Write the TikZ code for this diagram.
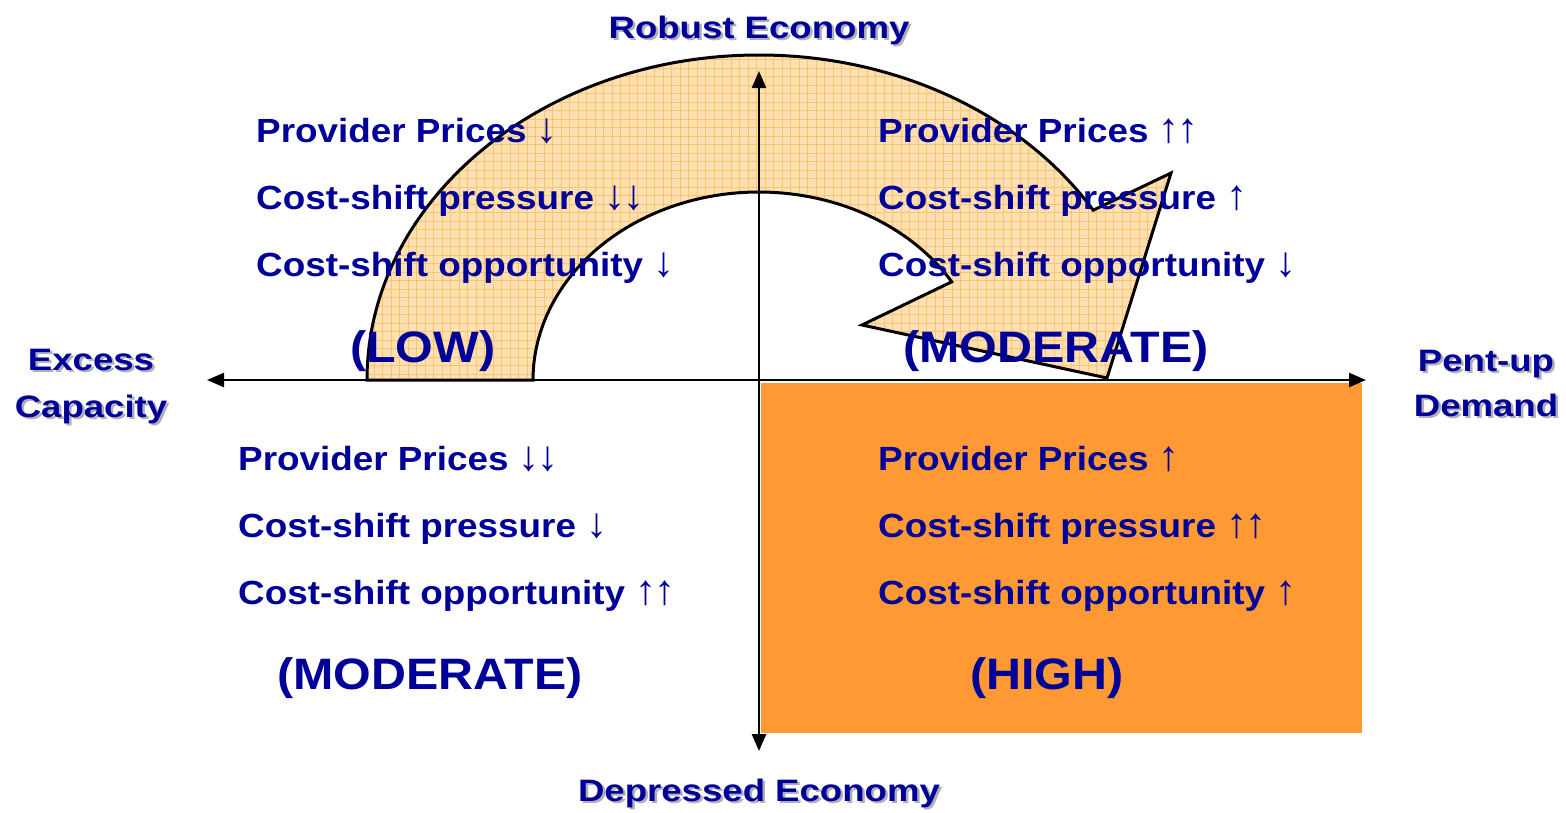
\documentclass[tikz,border=0pt]{standalone}
\usepackage{fontspec}
\setmainfont{Liberation Sans}
\newfontfamily\bodyf[FakeStretch=1.1]{Liberation Sans}
\newfontfamily\titf[FakeStretch=1.18]{Liberation Sans}
\newfontfamily\arrowf{Liberation Sans}
\usetikzlibrary{arrows.meta}
\definecolor{txtblue}{RGB}{0,0,153}
\definecolor{shadowgray}{RGB}{175,175,185}
\definecolor{hiorange}{RGB}{255,153,51}
\definecolor{lightfill}{RGB}{255,224,178}
\definecolor{gridorange}{RGB}{255,196,112}
\newcommand{\dn}{{\arrowf\mdseries\fontsize{42}{40}\selectfont ↓}}
\newcommand{\up}{{\arrowf\mdseries\fontsize{42}{40}\selectfont ↑}}
\begin{document}
\begin{tikzpicture}[x=1pt,y=1pt,
  body/.style={anchor=base west, inner sep=0pt, text=txtblue, font=\bodyf\bfseries\fontsize{33.5}{40}\selectfont},
  big/.style={anchor=base west, inner sep=0pt, text=txtblue, font=\bodyf\bfseries\fontsize{44}{52}\selectfont},
  tit/.style={anchor=base, inner sep=0pt, text=txtblue, font=\titf\bfseries\fontsize{31}{37}\selectfont},
  titsh/.style={tit, text=shadowgray},
  axisline/.style={line width=2.5pt, {Triangle[length=17pt,width=14pt]}-{Triangle[length=17pt,width=14pt]}},
  arcshape/.style={draw=black, line width=3pt, line join=miter}]
\useasboundingbox (0,0) rectangle (1566,-812);

% curved arrow
\def\arcpath{(367,-380) arc[start angle=180, end angle=31.5, x radius=392, y radius=325]
  -- (1171,-173) -- (1107,-378) -- (862,-325)
  -- (951.7,-281.8) arc[start angle=31.5, end angle=180, x radius=226, y radius=188] -- cycle}
\fill[lightfill] \arcpath;
\begin{scope}
  \clip \arcpath;
  \draw[gridorange, line width=0.8pt, step=8.5pt] (355,-45) grid (1185,-390);
\end{scope}
\draw[arcshape] \arcpath;

% high quadrant
\fill[hiorange] (761,-383) rectangle (1362,-733);

% axes
\coordinate (L) at (207,-380);
\coordinate (R) at (1366,-380);
\coordinate (T) at (759,-71);
\coordinate (B) at (759,-751);
\draw[axisline] (L) -- (R);
\draw[axisline] (T) -- (B);

% axis titles with shadows
\node[titsh] (rs) at (761.5,-40.5) {Robust Economy};
\node[tit] (r) at (759,-38) {Robust Economy};
\node[titsh] (ds) at (761.5,-803.5) {Depressed Economy};
\node[tit] (d) at (759,-801) {Depressed Economy};
\node[titsh] (e1s) at (93.5,-372.5) {Excess};
\node[tit] (e1) at (91,-370) {Excess};
\node[titsh] (e2s) at (93.5,-419.5) {Capacity};
\node[tit] (e2) at (91,-417) {Capacity};
\node[titsh] (p1s) at (1488.5,-373.5) {Pent-up};
\node[tit] (p1) at (1486,-371) {Pent-up};
\node[titsh] (p2s) at (1488.5,-418.5) {Demand};
\node[tit] (p2) at (1486,-416) {Demand};

% upper left
\node[body] (ul1) at (256,-142) {Provider Prices \dn};
\node[body] (ul2) at (256,-209) {Cost-shift pressure \dn\kern-2pt\dn};
\node[body] (ul3) at (256,-276) {Cost-shift opportunity \dn};
\node[big] (ul4) at (350,-362) {(LOW)};

% upper right
\node[body] (ur1) at (878,-142) {Provider Prices \up\kern-2pt\up};
\node[body] (ur2) at (878,-209) {Cost-shift pressure \up};
\node[body] (ur3) at (878,-276) {Cost-shift opportunity \dn};
\node[big] (ur4) at (903,-362) {(MODERATE)};

% lower left
\node[body] (ll1) at (238,-470) {Provider Prices \dn\kern-2pt\dn};
\node[body] (ll2) at (238,-537) {Cost-shift pressure \dn};
\node[body] (ll3) at (238,-604) {Cost-shift opportunity \up\kern-2pt\up};
\node[big] (ll4) at (277,-689) {(MODERATE)};

% lower right
\node[body] (lr1) at (878,-470) {Provider Prices \up};
\node[body] (lr2) at (878,-537) {Cost-shift pressure \up\kern-2pt\up};
\node[body] (lr3) at (878,-604) {Cost-shift opportunity \up};
\node[big] (lr4) at (970,-689) {(HIGH)};
\end{tikzpicture}
\end{document}
